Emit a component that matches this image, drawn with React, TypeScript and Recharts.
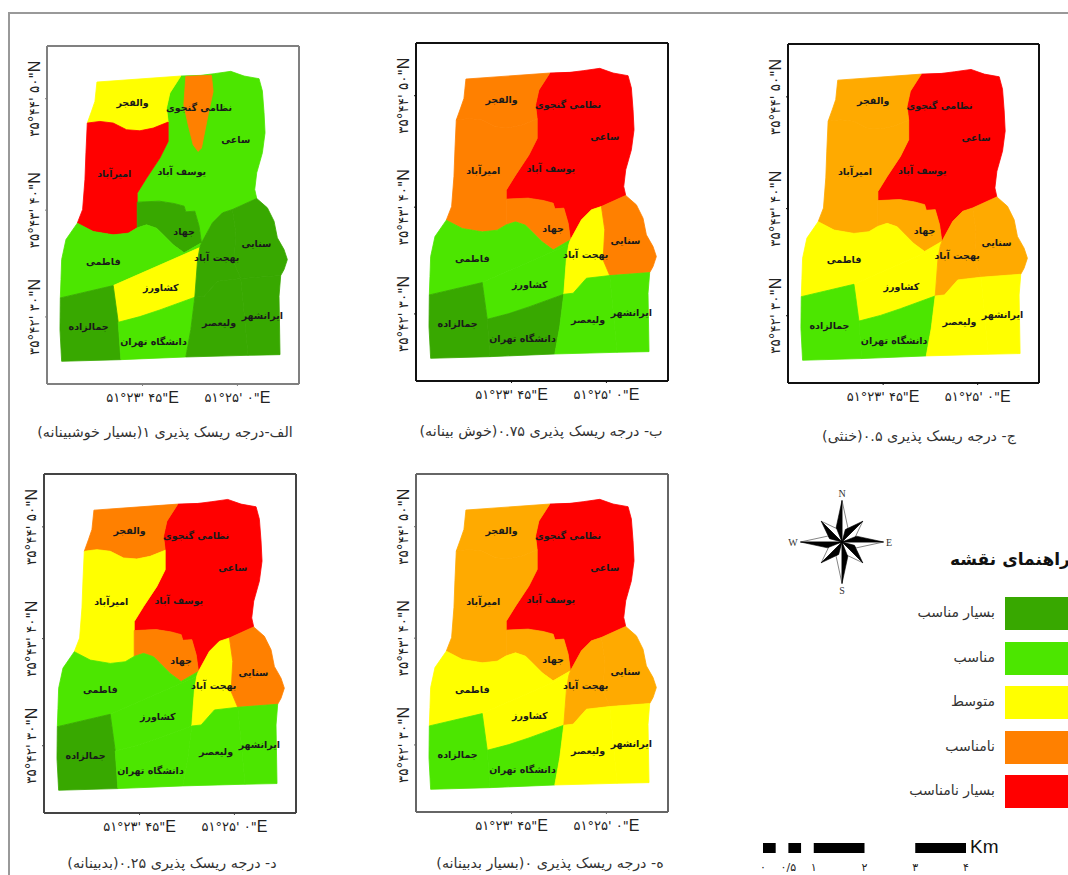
import { BarChart, Bar, XAxis, YAxis, ScatterChart, Scatter } from 'recharts';

// map geometry, shared by the five panels (x, y in map units)
const valfajr = [[288,208],[540,190],[507,241],[497,286],[502,328],[457,346],[417,354],[377,351],[337,331],[297,326],[259,331],[272,295],[282,266]];
const amirabad = [[259,331],[297,326],[337,331],[377,351],[417,354],[457,346],[502,328],[502,386],[477,436],[437,496],[409,541],[409,568],[409,645],[382,661],[337,666],[277,656],[229,631],[245,590],[252,500],[255,420]];
const north = [[540,190],[600,188],[640,183],[690,176],[730,190],[775,198],[785,235],[790,300],[793,360],[785,420],[768,480],[762,530],[768,557],[695,590],[665,600],[635,630],[602,690],[595,640],[582,595],[555,597],[550,580],[520,572],[475,565],[409,568],[409,541],[437,496],[477,436],[502,386],[502,328],[497,286],[507,241]];
const nezamiWedge = [[555,191],[632,188],[637,236],[622,306],[602,406],[592,416],[577,396],[562,336],[549,276]];
const jahad = [[409,568],[475,565],[520,572],[550,580],[555,597],[582,595],[595,640],[602,690],[550,720],[517,696],[487,666],[467,646],[437,636],[409,645]];
const fatemi = [[229,631],[277,656],[337,666],[382,661],[409,645],[437,636],[467,646],[487,666],[517,696],[550,720],[602,690],[597,704],[337,818],[178,855],[180,800],[182,740],[195,680]];
const keshavarz = [[337,818],[597,704],[590,745],[582,853],[477,891],[417,911],[352,928]];
const jamalzadeh = [[178,855],[337,818],[352,928],[360,1040],[182,1045],[177,950]];
const daneshgah = [[352,928],[417,911],[477,891],[582,853],[570,950],[555,1032],[360,1040]];
const behjat = [[695,590],[665,600],[635,630],[602,690],[597,704],[590,745],[582,853],[610,850],[650,805],[720,797],[700,750],[705,660]];
const sanaei = [[768,557],[800,585],[820,625],[830,675],[850,710],[860,740],[850,770],[840,788],[720,797],[700,750],[705,660],[695,590]];
const valiasr = [[582,853],[610,850],[650,805],[720,797],[730,900],[742,1027],[555,1032],[570,950]];
const iranshahr = [[720,797],[840,788],[835,850],[838,1025],[742,1027],[730,900]];

const regionShapes = [north, nezamiWedge, valfajr, amirabad, jahad, fatemi, keshavarz, jamalzadeh, daneshgah, behjat, sanaei, valiasr, iranshahr];

const VG = '#38A800';
const G = '#4CE600';
const Y = '#FFFF00';
const O = '#FF8000';
const LO = '#FFAA00';
const R = '#FF0000';

// colours in the order of regionShapes
const panelAColors = [G, O, Y, R, VG, G, Y, VG, G, VG, VG, VG, VG];
const panelBColors = [R, R, O, O, O, G, G, VG, VG, Y, O, G, G];
const panelCColors = [R, R, LO, LO, LO, Y, Y, G, G, LO, LO, Y, Y];
const panelDColors = [R, R, O, Y, O, G, G, VG, G, Y, O, G, G];
const panelEColors = [R, R, LO, LO, LO, Y, Y, G, G, LO, LO, Y, Y];

const regionLabels = [
  { x: 395, y: 270, name: 'والفجر' },
  { x: 595, y: 283, name: 'نظامی گنجوی' },
  { x: 705, y: 380, name: 'ساعی' },
  { x: 543, y: 477, name: 'یوسف آباد' },
  { x: 340, y: 482, name: 'امیرآباد' },
  { x: 550, y: 657, name: 'جهاد' },
  { x: 767, y: 692, name: 'سنایی' },
  { x: 648, y: 733, name: 'بهجت آباد' },
  { x: 307, y: 745, name: 'فاطمی' },
  { x: 480, y: 825, name: 'کشاورز' },
  { x: 263, y: 940, name: 'جمالزاده' },
  { x: 458, y: 987, name: 'دانشگاه تهران' },
  { x: 655, y: 930, name: 'ولیعصر' },
  { x: 785, y: 908, name: 'ایرانشهر' },
];

const lonTicks = [425, 710];
const lonLabels = ['۵۱°۲۳\' ۴۵"', '۵۱°۲۵\' ۰"'];
const latTicks = [258, 592, 912];
const latLabels = ['۳۵°۴۴\' ۵۰"', '۳۵°۴۳\' ۴۰"', '۳۵°۴۲\' ۳۰"'];

const legendNames = ['بسیار مناسب', 'مناسب', 'متوسط', 'نامناسب', 'بسیار نامناسب'];
const legendColors = [VG, G, Y, O, R];

const compassDark = [
  [[0,1],[-0.14,0.35],[0,0]],
  [[1,0],[0.35,0.14],[0,0]],
  [[0,-1],[0.14,-0.35],[0,0]],
  [[-1,0],[-0.35,-0.14],[0,0]],
  [[0.5,0.5],[0.08,0.3],[0,0]],
  [[0.5,-0.5],[0.3,-0.08],[0,0]],
  [[-0.5,-0.5],[-0.08,-0.3],[0,0]],
  [[-0.5,0.5],[-0.3,0.08],[0,0]],
];
const compassLight = [
  [[0,1],[0.14,0.35],[0,0]],
  [[1,0],[0.35,-0.14],[0,0]],
  [[0,-1],[-0.14,-0.35],[0,0]],
  [[-1,0],[-0.35,0.14],[0,0]],
  [[0.5,0.5],[0.3,0.08],[0,0]],
  [[0.5,-0.5],[0.08,-0.3],[0,0]],
  [[-0.5,-0.5],[-0.3,-0.08],[0,0]],
  [[-0.5,0.5],[-0.08,0.3],[0,0]],
];
const compassLetters = [
  { x: 0, y: 1.16, name: 'N' },
  { x: 1.13, y: 0, name: 'E' },
  { x: 0, y: -1.17, name: 'S' },
  { x: -1.18, y: 0, name: 'W' },
];

const scaleSegments = [{ row: 'km', a: 0.25, b: 0.25, c: 0.25, d: 0.25, e: 1, f: 1, g: 1 }];
const scaleTicks = [0, 0.5, 1, 2, 3, 4];
const scaleLabels = ['۰', '۰/۵', '۱', '۲', '۳', '۴'];

const FONT = '"DejaVu Sans", sans-serif';
const AXIS_PAD = 30;

const panels = [
  { left: 47, top: 46, width: 252, height: 338, frame: '#808080', colors: panelAColors },
  { left: 416, top: 43, width: 252, height: 338, frame: '#111111', colors: panelBColors },
  { left: 788, top: 44, width: 251, height: 339, frame: '#111111', colors: panelCColors },
  { left: 44, top: 474, width: 252, height: 339, frame: '#444444', colors: panelDColors },
  { left: 416, top: 474, width: 252, height: 338, frame: '#666666', colors: panelEColors },
];

const captions = [
  { x: 165, y: 432, text: 'الف-درجه ریسک پذیری ۱(بسیار خوشبینانه)' },
  { x: 541, y: 431, text: 'ب- درجه ریسک پذیری ۰.۷۵(خوش بینانه)' },
  { x: 919, y: 436, text: 'ج- درجه ریسک پذیری ۰.۵(خنثی)' },
  { x: 172, y: 863, text: 'د- درجه ریسک پذیری ۰.۲۵(بدبینانه)' },
  { x: 550, y: 863, text: 'ه- درجه ریسک پذیری ۰(بسیار بدبینانه)' },
];

const toPoints = (shape: number[][]) => {
  const pts = shape.map(([x, y]) => ({ x, y }));
  return [...pts, pts[0]];
};

const noDot = () => <g />;

function LonTick({ x, index, labelY }: any) {
  return (
    <text x={x} y={labelY} textAnchor="middle" dominantBaseline="central" direction="ltr" fontFamily={FONT} fontSize={13} fill="#222">
      {lonLabels[index]}
      <tspan fontFamily='"Liberation Sans", sans-serif' fontSize={16}>E</tspan>
    </text>
  );
}

function LatTick({ y, index, labelX }: any) {
  return (
    <text
      x={labelX}
      y={y}
      textAnchor="middle"
      dominantBaseline="central"
      direction="ltr"
      transform={`rotate(-90 ${labelX} ${y})`}
      fontFamily={FONT}
      fontSize={13.5}
      fill="#222"
    >
      {latLabels[index]}
      <tspan fontFamily='"Liberation Sans", sans-serif' fontSize={16}>N</tspan>
    </text>
  );
}

function RegionLabel({ cx, cy, payload }: any) {
  return (
    <text x={cx} y={cy} textAnchor="middle" dominantBaseline="central" fontFamily={FONT} fontSize={9.5} fontWeight="bold" fill="#1a1a1a">
      {payload.name}
    </text>
  );
}

function MapPanel({ left, top, width, height, frame, colors }: any) {
  const w = width + AXIS_PAD * 2;
  const h = height + AXIS_PAD * 2;
  const axisLine = { stroke: frame, strokeWidth: 2 };
  return (
    <div style={{ position: 'absolute', left: left - AXIS_PAD, top: top - AXIS_PAD }}>
      <ScatterChart width={w} height={h} margin={{ top: 0, right: 0, bottom: 0, left: 0 }}>
        <XAxis xAxisId="bottom" orientation="bottom" type="number" dataKey="x" domain={[138, 895]} ticks={lonTicks} interval={0}
          height={AXIS_PAD} axisLine={axisLine} tickSize={2} tickLine={{ stroke: frame }}
          tick={(p: any) => <LonTick {...p} labelY={h - AXIS_PAD + 13} />} />
        <XAxis xAxisId="top" orientation="top" type="number" dataKey="x" domain={[138, 895]} ticks={lonTicks} interval={0}
          height={AXIS_PAD} axisLine={axisLine} tickSize={2} tickLine={{ stroke: frame }}
          tick={(p: any) => <LonTick {...p} labelY={AXIS_PAD - 11} />} />
        <YAxis yAxisId="left" orientation="left" type="number" dataKey="y" domain={[100, 1113]} reversed ticks={latTicks} interval={0}
          width={AXIS_PAD} axisLine={axisLine} tickSize={2} tickLine={{ stroke: frame }}
          tick={(p: any) => <LatTick {...p} labelX={AXIS_PAD - 13} />} />
        <YAxis yAxisId="right" orientation="right" type="number" dataKey="y" domain={[100, 1113]} reversed ticks={latTicks} interval={0}
          width={AXIS_PAD} axisLine={axisLine} tickSize={2} tickLine={{ stroke: frame }}
          tick={(p: any) => <LatTick {...p} labelX={w - AXIS_PAD + 12} />} />
        {regionShapes.map((shape, i) => (
          <Scatter
            key={i}
            xAxisId="bottom"
            yAxisId="left"
            data={toPoints(shape)}
            line={{ fill: colors[i], stroke: colors[i], strokeWidth: 0.8 }}
            shape={noDot}
            isAnimationActive={false}
          />
        ))}
        <Scatter xAxisId="bottom" yAxisId="left" data={regionLabels} shape={RegionLabel} isAnimationActive={false} />
      </ScatterChart>
    </div>
  );
}

function Compass() {
  return (
    <div style={{ position: 'absolute', left: 788, top: 488 }}>
      <ScatterChart width={108} height={108} margin={{ top: 0, right: 0, bottom: 0, left: 0 }}>
        <XAxis type="number" dataKey="x" domain={[-1.3, 1.3]} hide />
        <YAxis type="number" dataKey="y" domain={[-1.3, 1.3]} hide />
        {compassLight.map((shape, i) => (
          <Scatter key={`l${i}`} data={toPoints(shape)} line={{ fill: '#fff', stroke: '#333', strokeWidth: 0.6 }} shape={noDot} isAnimationActive={false} />
        ))}
        {compassDark.map((shape, i) => (
          <Scatter key={`d${i}`} data={toPoints(shape)} line={{ fill: '#000', stroke: '#000', strokeWidth: 0.6 }} shape={noDot} isAnimationActive={false} />
        ))}
        <Scatter
          data={compassLetters}
          shape={(p: any) => (
            <text x={p.cx} y={p.cy} textAnchor="middle" dominantBaseline="central" fontFamily='"Liberation Serif", serif' fontSize={10} fill="#333">
              {p.payload.name}
            </text>
          )}
          isAnimationActive={false}
        />
      </ScatterChart>
    </div>
  );
}

function ScaleBar() {
  const keys = ['a', 'b', 'c', 'd', 'e', 'f', 'g'];
  return (
    <div style={{ position: 'absolute', left: 743, top: 843 }}>
      <BarChart width={243} height={32} layout="vertical" data={scaleSegments} barCategoryGap={0}
        margin={{ top: 0, right: 20, bottom: 0, left: 20 }}>
        <XAxis type="number" domain={[0, 4]} ticks={scaleTicks} interval={0} height={22} axisLine={false} tickLine={false} tickMargin={4}
          tickFormatter={(v: number) => scaleLabels[scaleTicks.indexOf(v)]}
          tick={{ fontFamily: FONT, fontSize: 11, fill: '#222' }} />
        <YAxis type="category" dataKey="row" hide />
        {keys.map((k, i) => (
          <Bar key={k} dataKey={k} stackId="s" fill={i % 2 === 0 ? '#000' : 'transparent'} isAnimationActive={false} />
        ))}
      </BarChart>
    </div>
  );
}

export default function App() {
  return (
    <div style={{ position: 'absolute', left: 0, top: 0, width: 1068, height: 875, overflow: 'hidden', background: '#fff' }}>
      <div style={{ position: 'absolute', left: 8, top: 12, right: 0, bottom: 0, borderTop: '2px solid #999', borderLeft: '2px solid #999' }} />
      {panels.map((p, i) => <MapPanel key={i} {...p} />)}
      {captions.map((c, i) => (
        <div key={i} dir="rtl" style={{ position: 'absolute', left: c.x - 160, top: c.y - 10, width: 320, height: 20, lineHeight: '20px', textAlign: 'center', fontFamily: FONT, fontSize: 14.3, color: '#333', whiteSpace: 'nowrap' }}>
          {c.text}
        </div>
      ))}
      <Compass />
      <div dir="rtl" style={{ position: 'absolute', left: 950, top: 549, fontFamily: FONT, fontWeight: 'bold', fontSize: 17, color: '#111', whiteSpace: 'nowrap' }}>
        راهنمای نقشه
      </div>
      {legendNames.map((name, i) => (
        <div key={name}>
          <div style={{ position: 'absolute', left: 1005, top: 597 + i * 44.5, width: 70, height: 33, background: legendColors[i] }} />
          <div dir="rtl" style={{ position: 'absolute', left: 860, width: 135, top: 604 + i * 44.5, fontFamily: FONT, fontSize: 14, color: '#333', textAlign: 'right', whiteSpace: 'nowrap' }}>
            {name}
          </div>
        </div>
      ))}
      <ScaleBar />
      <div style={{ position: 'absolute', left: 970, top: 836, fontFamily: '"Liberation Sans", sans-serif', fontSize: 19, color: '#111' }}>Km</div>
    </div>
  );
}
